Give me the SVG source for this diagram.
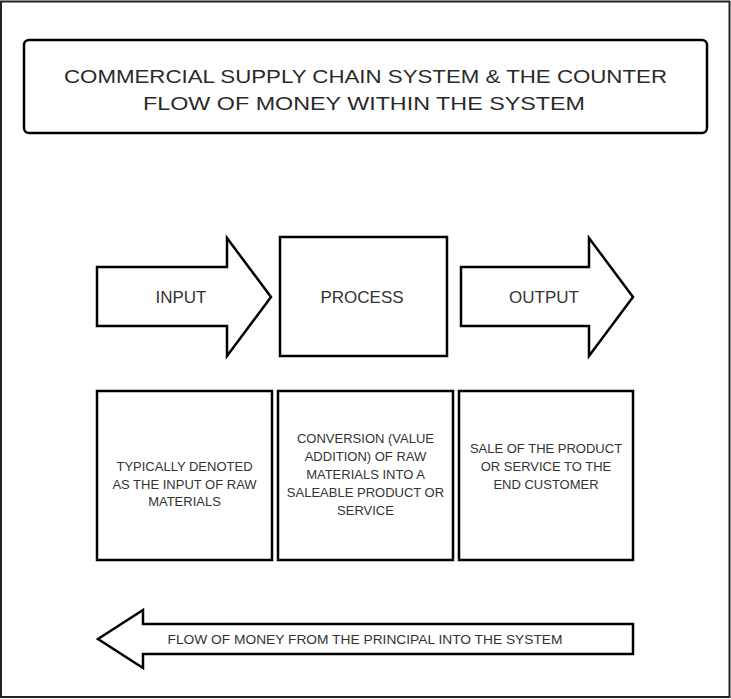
<svg xmlns="http://www.w3.org/2000/svg" width="731" height="699" viewBox="0 0 731 699">
<style>
.shape{fill:#fff;stroke:#000;stroke-width:2.5;stroke-linejoin:miter}
.t{font-family:"Liberation Sans",Arial,sans-serif;fill:#333;text-anchor:middle}
.title{font-size:19px;fill:#2a2a2a}
.lbl{font-size:17px}
.desc{font-size:13px}
.flow{font-size:13px}
</style>
<rect x="1" y="1.5" width="728.5" height="695.5" fill="#fff" stroke="#222" stroke-width="2"/>
<g id="title">
<rect class="shape" x="24" y="40" width="683" height="93" rx="5"/>
<text class="t title" x="365.5" y="83" textLength="603" lengthAdjust="spacingAndGlyphs">COMMERCIAL SUPPLY CHAIN SYSTEM &amp; THE COUNTER</text>
<text class="t title" x="364" y="110" textLength="442" lengthAdjust="spacingAndGlyphs">FLOW OF MONEY WITHIN THE SYSTEM</text>
</g>
<g id="input">
<polygon class="shape" points="97,267 227,267 227,238 271,297 227,356 227,326 97,326"/>
<text class="t lbl" x="181" y="303">INPUT</text>
</g>
<g id="process">
<rect class="shape" x="280" y="237" width="167" height="119"/>
<text class="t lbl" x="362" y="303">PROCESS</text>
</g>
<g id="output">
<polygon class="shape" points="461,267 589,267 589,238 633,297 589,356 589,326 461,326"/>
<text class="t lbl" x="544" y="303">OUTPUT</text>
</g>
<g id="input-desc">
<rect class="shape" x="97" y="391" width="175" height="169"/>
<text class="t desc" x="184.5" y="470.5">TYPICALLY DENOTED</text>
<text class="t desc" x="184.5" y="488.5">AS THE INPUT OF RAW</text>
<text class="t desc" x="184.5" y="506">MATERIALS</text>
</g>
<g id="process-desc">
<rect class="shape" x="278" y="391" width="175" height="169"/>
<text class="t desc" x="365.5" y="442.5">CONVERSION (VALUE</text>
<text class="t desc" x="365.5" y="460.5">ADDITION) OF RAW</text>
<text class="t desc" x="365.5" y="478.5">MATERIALS INTO A</text>
<text class="t desc" x="365.5" y="496.5">SALEABLE PRODUCT OR</text>
<text class="t desc" x="365.5" y="514.5">SERVICE</text>
</g>
<g id="output-desc">
<rect class="shape" x="459" y="391" width="174" height="169"/>
<text class="t desc" x="546" y="452.5">SALE OF THE PRODUCT</text>
<text class="t desc" x="546" y="470.5">OR SERVICE TO THE</text>
<text class="t desc" x="546" y="488.5">END CUSTOMER</text>
</g>
<g id="connectors">
<g id="money-flow">
<polygon class="shape" points="633,624 143,624 143,610 98,639 143,668 143,654 633,654"/>
<text class="t flow" x="365" y="643.5" textLength="395" lengthAdjust="spacingAndGlyphs">FLOW OF MONEY FROM THE PRINCIPAL INTO THE SYSTEM</text>
</g>
</g>
</svg>
